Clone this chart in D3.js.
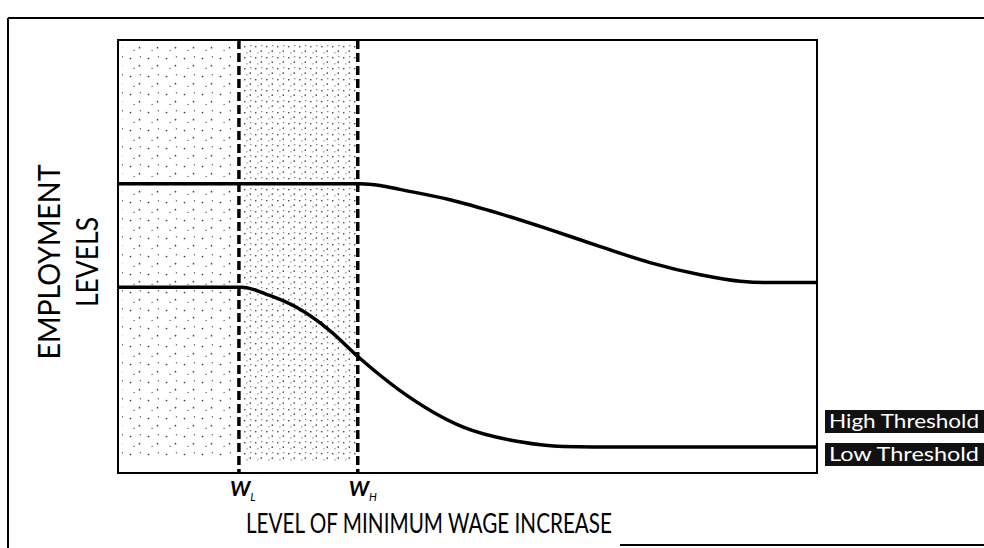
<!DOCTYPE html>
<html>
<head>
<meta charset="utf-8">
<script src="https://cdn.jsdelivr.net/npm/d3@7"></script>
<style>
  html, body { margin: 0; padding: 0; background: #fff; }
  svg { display: block; }
</style>
</head>
<body>
<div id="chart"></div>
<script>
// ---- data ----
const highX = [0, 34.6, 37.5, 40.3, 47.5, 54.6, 61.8, 69.0, 76.1, 83.3, 89.0, 92.5, 100];
const highY = [66.8, 66.8, 66.4, 65.5, 63.1, 59.9, 56.2, 52.3, 48.6, 45.8, 44.3, 44.0, 44.0];
const lowX  = [0, 17.7, 21.7, 25.6, 30.3, 34.6, 40.3, 49.4, 57.5, 63.7, 68.0, 100];
const lowY  = [42.9, 42.9, 41.0, 38.2, 32.9, 26.5, 19.1, 10.6, 7.2, 6.1, 6.0, 6.0];
const thresholds = [17.3, 34.3];          // W_L, W_H positions on wage axis
const thresholdLabels = ["L", "H"];
const legendLabels = ["High Threshold", "Low Threshold"];
const xTitle = "LEVEL OF MINIMUM WAGE INCREASE";
const yTitle = ["EMPLOYMENT", "LEVELS"];

// ---- layout ----
const W = 984, H = 548;
const plot = { left: 118, right: 817, top: 40, bottom: 473 };

const svg = d3.select("#chart").append("svg").attr("width", W).attr("height", H);

const x = d3.scaleLinear().domain([0, 100]).range([plot.left, plot.right]);
const y = d3.scaleLinear().domain([0, 100]).range([plot.bottom, plot.top]);

// patterns (stipple)
const defs = svg.append("defs");
function stipple(id, step, r) {
  const p = defs.append("pattern").attr("id", id).attr("patternUnits", "userSpaceOnUse")
    .attr("width", step * 2).attr("height", step * 2);
  p.append("circle").attr("cx", step * 0.5).attr("cy", step * 0.5).attr("r", r).attr("fill", "#333");
  p.append("circle").attr("cx", step * 1.5).attr("cy", step * 1.3).attr("r", r).attr("fill", "#444");
  p.append("circle").attr("cx", step * 0.9).attr("cy", step * 1.6).attr("r", r * 0.8).attr("fill", "#555");
  p.append("circle").attr("cx", step * 1.6).attr("cy", step * 0.3).attr("r", r * 0.8).attr("fill", "#555");
}
stipple("dotsLight", 9, 0.85);
stipple("dotsDense", 5.5, 0.8);

// outer frame
svg.append("line").attr("x1", 8).attr("y1", 18).attr("x2", W).attr("y2", 18)
  .attr("stroke", "#000").attr("stroke-width", 2);
svg.append("line").attr("x1", 8).attr("y1", 18).attr("x2", 8).attr("y2", H)
  .attr("stroke", "#000").attr("stroke-width", 2);
svg.append("line").attr("x1", 620).attr("y1", 545).attr("x2", W).attr("y2", 545)
  .attr("stroke", "#000").attr("stroke-width", 2);

// shaded regions
const shadeBottom = y(4);
svg.append("rect").attr("x", x(0) + 4).attr("y", plot.top + 4)
  .attr("width", x(thresholds[0]) - x(0) - 6).attr("height", shadeBottom - plot.top - 4)
  .attr("fill", "url(#dotsLight)");
svg.append("rect").attr("x", x(thresholds[0]) + 3).attr("y", plot.top + 4)
  .attr("width", x(thresholds[1]) - x(thresholds[0]) - 4).attr("height", y(2.5) - plot.top - 4)
  .attr("fill", "url(#dotsDense)");

// plot box
svg.append("rect").attr("x", plot.left).attr("y", plot.top)
  .attr("width", plot.right - plot.left).attr("height", plot.bottom - plot.top)
  .attr("fill", "none").attr("stroke", "#000").attr("stroke-width", 2);

// threshold dashed lines
svg.selectAll(".thr").data(thresholds).join("line")
  .attr("x1", d => x(d)).attr("x2", d => x(d))
  .attr("y1", plot.top).attr("y2", plot.bottom)
  .attr("stroke", "#000").attr("stroke-width", 3.5).attr("stroke-dasharray", "9,4");

// curves
const line = d3.line().x(d => x(d[0])).y(d => y(d[1])).curve(d3.curveMonotoneX);
svg.append("path").datum(d3.zip(highX, highY)).attr("d", line)
  .attr("fill", "none").attr("stroke", "#000").attr("stroke-width", 3.5);
svg.append("path").datum(d3.zip(lowX, lowY)).attr("d", line)
  .attr("fill", "none").attr("stroke", "#000").attr("stroke-width", 3.5);

// threshold labels
thresholds.forEach((t, i) => {
  const tx = svg.append("text").attr("x", x(t) - 9).attr("y", 496)
    .attr("font-family", "Lato, sans-serif").attr("font-style", "italic").attr("font-weight", 700)
    .attr("font-size", 21).attr("fill", "#000");
  tx.append("tspan").text("W");
  tx.append("tspan").attr("dy", 5).attr("font-size", 11).attr("font-weight", 400).text(thresholdLabels[i]);
});

// x title
svg.append("text").attr("x", 429).attr("y", 533).attr("text-anchor", "middle")
  .attr("font-family", "Lato, sans-serif").attr("font-size", 27)
  .attr("textLength", 366).attr("lengthAdjust", "spacingAndGlyphs")
  .text(xTitle);

// y title
const yLen = [195, 90];
yTitle.forEach((t, i) => {
  svg.append("text")
    .attr("transform", `translate(${i === 0 ? 60 : 98},262) rotate(-90)`)
    .attr("text-anchor", "middle")
    .attr("font-family", "Lato, sans-serif").attr("font-size", 30)
    .attr("textLength", yLen[i]).attr("lengthAdjust", "spacingAndGlyphs")
    .text(t);
});

// legend boxes
const legY = [410, 443];
legendLabels.forEach((t, i) => {
  svg.append("rect").attr("x", 825).attr("y", legY[i]).attr("width", W - 825).attr("height", 23)
    .attr("fill", "#111");
  svg.append("text").attr("x", 829).attr("y", legY[i] + 18)
    .attr("font-family", "Lato, sans-serif").attr("font-size", 19).attr("fill", "#fff")
    .attr("textLength", 150).attr("lengthAdjust", "spacingAndGlyphs")
    .text(t);
});
</script>
</body>
</html>
